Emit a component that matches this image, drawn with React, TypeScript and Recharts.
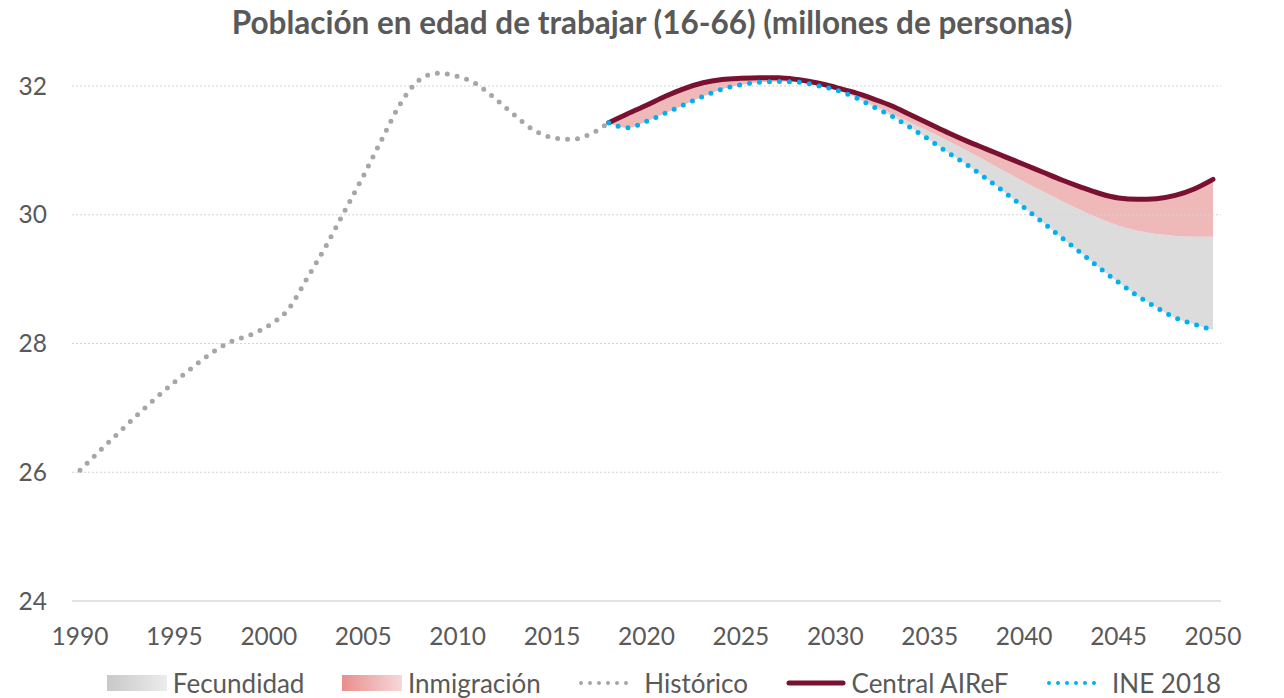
import { ComposedChart, Area, Line, XAxis, YAxis, ReferenceLine } from 'recharts'

const years = [
  1990, 1991, 1992, 1993, 1994, 1995, 1996, 1997, 1998, 1999,
  2000, 2001, 2002, 2003, 2004, 2005, 2006, 2007, 2008, 2009,
  2010, 2011, 2012, 2013, 2014, 2015, 2016, 2017, 2018, 2019,
  2020, 2021, 2022, 2023, 2024, 2025, 2026, 2027, 2028, 2029,
  2030, 2031, 2032, 2033, 2034, 2035, 2036, 2037, 2038, 2039,
  2040, 2041, 2042, 2043, 2044, 2045, 2046, 2047, 2048, 2049, 2050,
]

// 1990-2018
const historico = [
  26.03, 26.32, 26.6, 26.88, 27.15, 27.4, 27.64, 27.86, 28.03, 28.13,
  28.28, 28.52, 29.0, 29.5, 30.05, 30.6, 31.18, 31.74, 32.1, 32.2,
  32.15, 32.03, 31.8, 31.55, 31.32, 31.2, 31.17, 31.25, 31.43,
]

// 2018-2050
const centralAiref = [
  31.43, 31.57, 31.7, 31.84, 31.96, 32.05, 32.1, 32.12, 32.13, 32.13,
  32.1, 32.05, 31.98, 31.9, 31.8, 31.69, 31.55, 31.41, 31.27, 31.14,
  31.02, 30.9, 30.78, 30.66, 30.54, 30.43, 30.33, 30.26, 30.24, 30.25,
  30.3, 30.4, 30.55,
]

const ine2018 = [
  31.43, 31.35, 31.45, 31.58, 31.71, 31.84, 31.95, 32.02, 32.06, 32.07,
  32.06, 32.01, 31.94, 31.83, 31.68, 31.53, 31.35, 31.16, 30.96, 30.77,
  30.56, 30.34, 30.11, 29.88, 29.64, 29.41, 29.17, 28.95, 28.74, 28.56,
  28.4, 28.3, 28.21,
]

// límite entre fecundidad e inmigración
const sinInmigracion = [
  31.43, 31.35, 31.45, 31.58, 31.71, 31.84, 31.95, 32.02, 32.06, 32.07,
  32.06, 32.01, 31.94, 31.85, 31.71, 31.57, 31.43, 31.29, 31.14, 30.99,
  30.83, 30.67, 30.51, 30.36, 30.21, 30.07, 29.94, 29.83, 29.75, 29.7,
  29.67, 29.66, 29.66,
]

const yTicks = [24, 26, 28, 30, 32]
const xTicks = [1990, 1995, 2000, 2005, 2010, 2015, 2020, 2025, 2030, 2035, 2040, 2045, 2050]

const PROY_START = 2018

const data = years.map((year, i) => {
  const j = year - PROY_START
  const p = j >= 0
  return {
    year,
    hist: i < historico.length ? historico[i] : null,
    airef: p ? centralAiref[j] : null,
    ine: p ? ine2018[j] : null,
    fecundidad: p ? [ine2018[j], sinInmigracion[j]] : null,
    inmigracion: p ? [sinInmigracion[j], centralAiref[j]] : null,
  }
})

const FONT = 'Lato, "Open Sans", sans-serif'
const TEXT = '#595959'

function LegendItem({ icon, label }: { icon: React.ReactNode; label: string }) {
  return (
    <div style={{ display: 'flex', alignItems: 'center', gap: 6 }}>
      <svg width={60} height={18}>{icon}</svg>
      <span>{label}</span>
    </div>
  )
}

export default function App() {
  return (
    <div style={{ position: 'absolute', left: 0, top: 0, width: 1284, height: 698, background: '#fff', fontFamily: FONT }}>
      <div
        style={{
          position: 'absolute', top: 2, left: 10, width: 1284, textAlign: 'center',
          fontSize: 31.5, fontWeight: 700, color: TEXT, lineHeight: '40px',
        }}
      >
        Población en edad de trabajar (16-66) (millones de personas)
      </div>
      <ComposedChart
        width={1284}
        height={698}
        data={data}
        margin={{ top: 60.25, right: 0, bottom: 57, left: 0 }}
      >
        <XAxis
          dataKey="year"
          type="number"
          domain={[1990, 2050]}
          ticks={xTicks}
          padding={{ left: 8, right: 8 }}
          height={40}
          tickLine={false}
          tickSize={0}
          tickMargin={27}
          axisLine={{ stroke: '#d9d9d9', strokeWidth: 1.5 }}
          tick={{ fill: TEXT, fontSize: 24.5, fontFamily: FONT }}
        />
        <YAxis
          yAxisId="l"
          domain={[24, 32.4]}
          ticks={yTicks}
          width={72}
          axisLine={false}
          tickLine={false}
          tickSize={0}
          tickMargin={25}
          tick={{ fill: TEXT, fontSize: 24.5, fontFamily: FONT }}
        />
        <YAxis
          yAxisId="r"
          orientation="right"
          domain={[24, 32.4]}
          ticks={yTicks}
          width={63}
          axisLine={false}
          tickLine={false}
          tickSize={0}
          tickMargin={29}
          tick={{ fill: TEXT, fontSize: 24.5, fontFamily: FONT, textAnchor: 'start' }}
        />
        {yTicks.slice(1).map((t) => (
          <ReferenceLine key={t} yAxisId="l" y={t} stroke="#d4d4d4" strokeDasharray="2 2" />
        ))}
        <Area
          yAxisId="l"
          type="monotone"
          dataKey="fecundidad"
          stroke="none"
          fill="#dcdcdc"
          fillOpacity={1}
          isAnimationActive={false}
        />
        <Area
          yAxisId="l"
          type="monotone"
          dataKey="inmigracion"
          stroke="none"
          fill="#f0b9b9"
          fillOpacity={1}
          isAnimationActive={false}
        />
        <Line
          yAxisId="l"
          type="monotone"
          dataKey="hist"
          stroke="#a6a6a6"
          strokeWidth={5}
          strokeDasharray="0 10"
          strokeLinecap="round"
          dot={false}
          isAnimationActive={false}
        />
        <Line
          yAxisId="l"
          type="monotone"
          dataKey="airef"
          stroke="#7b1130"
          strokeWidth={5}
          strokeLinecap="round"
          dot={false}
          isAnimationActive={false}
        />
        <Line
          yAxisId="l"
          type="monotone"
          dataKey="ine"
          stroke="#00b0f0"
          strokeWidth={5}
          strokeDasharray="0 10"
          strokeLinecap="round"
          dot={false}
          isAnimationActive={false}
        />
      </ComposedChart>
      <svg width={0} height={0} style={{ position: 'absolute' }}>
        <defs>
          <linearGradient id="gGris" x1="0" x2="1" y1="0" y2="0">
            <stop offset="0" stopColor="#c8c8c8" />
            <stop offset="1" stopColor="#ececec" />
          </linearGradient>
          <linearGradient id="gRosa" x1="0" x2="1" y1="0" y2="0">
            <stop offset="0" stopColor="#e88e8e" />
            <stop offset="1" stopColor="#f8d8d8" />
          </linearGradient>
        </defs>
      </svg>
      <div
        style={{
          position: 'absolute', top: 668, left: 44, width: 1240, display: 'flex',
          justifyContent: 'center', gap: 37.5, fontSize: 26, color: TEXT, lineHeight: '30px',
        }}
      >
        <LegendItem label="Fecundidad" icon={<rect x={0} y={1} width={60} height={16} fill="url(#gGris)" />} />
        <LegendItem label="Inmigración" icon={<rect x={0} y={1} width={60} height={16} fill="url(#gRosa)" />} />
        <LegendItem
          label="Histórico"
          icon={<line x1={3} x2={57} y1={9} y2={9} stroke="#a6a6a6" strokeWidth={4} strokeDasharray="0 9" strokeLinecap="round" />}
        />
        <LegendItem
          label="Central AIReF"
          icon={<line x1={3} x2={57} y1={9} y2={9} stroke="#7b1130" strokeWidth={5} strokeLinecap="round" />}
        />
        <LegendItem
          label="INE 2018"
          icon={<line x1={3} x2={57} y1={9} y2={9} stroke="#00b0f0" strokeWidth={4} strokeDasharray="0 9" strokeLinecap="round" />}
        />
      </div>
    </div>
  )
}
